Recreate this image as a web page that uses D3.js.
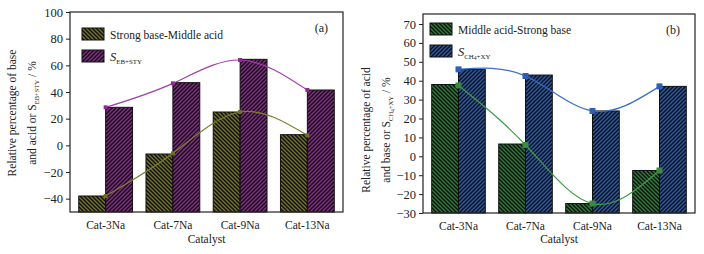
<!DOCTYPE html>
<html>
<head>
<meta charset="utf-8">
<script src="https://cdn.jsdelivr.net/npm/d3@7"></script>
<style>
  body { margin: 0; background: #fff; }
</style>
</head>
<body>
<div id="chart"></div>
<script>
// Categories shared by both panels
const catalysts = ["Cat-3Na", "Cat-7Na", "Cat-9Na", "Cat-13Na"];

// Panel (a) values
const strongBaseMiddleAcid = [-38, -6.5, 25, 8];
const selEbSty = [28.5, 47, 64.5, 41.5];
const lineStrongBaseMiddleAcid = [-38, -6, 25, 7.5];
const lineEbSty = [28.5, 46.5, 64, 41.5];
const ticksA = [-40, -20, 0, 20, 40, 60, 80, 100];

// Panel (b) values
const middleAcidStrongBase = [38, 6.5, -25, -7.5];
const selCh4Xy = [46, 43, 24, 37];
const lineMiddleAcidStrongBase = [37.5, 6, -25, -7.5];
const lineCh4Xy = [46, 42.5, 24, 37];
const ticksB = [-30, -20, -10, 0, 10, 20, 30, 40, 50, 60, 70];

const FONT = "Liberation Serif";

const svg = d3
  .select("#chart")
  .append("svg")
  .attr("width", 704)
  .attr("height", 254);

const defs = svg.append("defs");

// Hatch patterns: colored background with dense black diagonals
function hatch(id, color, dir) {
  const p = defs
    .append("pattern")
    .attr("id", id)
    .attr("patternUnits", "userSpaceOnUse")
    .attr("width", 4)
    .attr("height", 4);
  p.append("rect").attr("width", 4).attr("height", 4).attr("fill", color);
  const d =
    dir === "back"
      ? "M-1,-1 L5,5 M-1,3 L1,5 M3,-1 L5,1"
      : "M-1,5 L5,-1 M-1,1 L1,-1 M3,5 L5,3";
  p.append("path").attr("d", d).attr("stroke", "#111").attr("stroke-width", 1.5);
}
hatch("hOlive", "#74742a", "back");
hatch("hPurple", "#8c2a90", "fwd");
hatch("hGreen", "#2f7d3a", "back");
hatch("hBlue", "#2a5cb4", "fwd");

function drawPanel(cfg) {
  const g = svg.append("g");
  const x = d3
    .scaleBand()
    .domain(catalysts)
    .range([cfg.left, cfg.right])
    .paddingInner(0.2)
    .paddingOuter(0.13);
  const xs = d3.scaleBand().domain([0, 1]).range([0, x.bandwidth()]);
  const y = d3.scaleLinear().domain(cfg.domain).range([cfg.bottom, cfg.top]);
  const base = cfg.domain[0];

  // Bars rise from the bottom of the axis
  cfg.series.forEach((s, i) => {
    g.selectAll(null)
      .data(s.values)
      .enter()
      .append("rect")
      .attr("x", (d, j) => x(catalysts[j]) + xs(i))
      .attr("width", xs.bandwidth())
      .attr("y", (d) => y(d))
      .attr("height", (d) => y(base) - y(d))
      .attr("fill", `url(#${s.pattern})`)
      .attr("stroke", "#111")
      .attr("stroke-width", 1);
  });

  // Smooth lines with square markers at the group centres
  const line = d3
    .line()
    .x((d, j) => x(catalysts[j]) + x.bandwidth() / 2)
    .y((d) => y(d))
    .curve(d3.curveNatural);
  cfg.lines.forEach((l) => {
    g.append("path")
      .datum(l.values)
      .attr("d", line)
      .attr("fill", "none")
      .attr("stroke", l.lineColor)
      .attr("stroke-width", 1.2);
    g.selectAll(null)
      .data(l.values)
      .enter()
      .append("rect")
      .attr("x", (d, j) => x(catalysts[j]) + x.bandwidth() / 2 - cfg.marker / 2)
      .attr("y", (d) => y(d) - cfg.marker / 2)
      .attr("width", cfg.marker)
      .attr("height", cfg.marker)
      .attr("fill", l.markerColor);
  });

  // Frame
  g.append("rect")
    .attr("x", cfg.left)
    .attr("y", cfg.top)
    .attr("width", cfg.right - cfg.left)
    .attr("height", cfg.bottom - cfg.top)
    .attr("fill", "none")
    .attr("stroke", "#222")
    .attr("stroke-width", 1.2);

  // Y axis
  const yAxis = g
    .append("g")
    .attr("transform", `translate(${cfg.left},0)`)
    .call(d3.axisLeft(y).tickValues(cfg.ticks).tickSize(4).tickPadding(3));
  yAxis.select(".domain").remove();
  yAxis.selectAll("line").attr("stroke", "#222");
  yAxis
    .selectAll("text")
    .attr("font-family", FONT)
    .attr("font-size", 12.5)
    .attr("fill", "#222")
    .text((d) => (d < 0 ? "\u2212" + Math.abs(d) : d));

  // X tick labels
  const xAxis = g
    .append("g")
    .attr("transform", `translate(0,${cfg.bottom})`)
    .call(d3.axisBottom(x).tickSize(0).tickPadding(9));
  xAxis.select(".domain").remove();
  xAxis
    .selectAll("text")
    .attr("font-family", FONT)
    .attr("font-size", 11.5)
    .attr("fill", "#222");

  g.append("text")
    .attr("x", (cfg.left + cfg.right) / 2)
    .attr("y", 243)
    .attr("text-anchor", "middle")
    .attr("font-family", FONT)
    .attr("font-size", 11.5)
    .attr("fill", "#222")
    .text("Catalyst");

  // Y label, two rotated lines
  const lab = g
    .append("text")
    .attr("transform", `translate(${cfg.labelX},${cfg.labelY}) rotate(-90)`)
    .attr("text-anchor", "middle")
    .attr("font-family", FONT)
    .attr("font-size", 11.5)
    .attr("fill", "#222");
  lab.append("tspan").attr("x", 0).attr("y", 0).text(cfg.label1);
  lab.append("tspan").attr("x", 0).attr("y", 20).text(cfg.label2 + " S");
  cfg.subscript(lab, 12);
  lab.append("tspan").attr("dy", -3).attr("font-size", 11.5).text(" / %");

  // Legend
  cfg.legend.forEach((item, i) => {
    const ly = cfg.legendY + i * 22;
    g.append("rect")
      .attr("x", cfg.legendX)
      .attr("y", ly)
      .attr("width", 22)
      .attr("height", 12)
      .attr("fill", `url(#${item.pattern})`)
      .attr("stroke", "#111");
    const t = g
      .append("text")
      .attr("x", cfg.legendX + 28)
      .attr("y", ly + 10.5)
      .attr("font-family", FONT)
      .attr("font-size", 11.5)
      .attr("fill", "#222");
    if (item.sub) {
      t.append("tspan").attr("font-style", "italic").attr("font-size", 12.5).text("S");
      cfg.subscript(t, 12.5);
    } else {
      t.text(item.label);
    }
  });

  g.append("text")
    .attr("x", cfg.right - 15)
    .attr("y", cfg.top + 20)
    .attr("text-anchor", "end")
    .attr("font-family", FONT)
    .attr("font-size", 12)
    .attr("fill", "#222")
    .text(cfg.tag);
}

drawPanel({
  left: 70,
  right: 343,
  top: 12,
  bottom: 212,
  domain: [-50, 100],
  ticks: ticksA,
  marker: 4,
  series: [
    { values: strongBaseMiddleAcid, pattern: "hOlive" },
    { values: selEbSty, pattern: "hPurple" },
  ],
  lines: [
    { values: lineStrongBaseMiddleAcid, lineColor: "#7f7f30", markerColor: "#6e6e26" },
    { values: lineEbSty, lineColor: "#a23fab", markerColor: "#8e2a92" },
  ],
  labelX: 16,
  labelY: 113,
  label1: "Relative percentage of base",
  label2: "and acid or",
  subscript: (t, fs) => {
    t.append("tspan").attr("dy", 3).attr("font-size", fs * 0.55).text("EB+STY");
  },
  legend: [
    { label: "Strong base-Middle acid", pattern: "hOlive" },
    { sub: true, pattern: "hPurple" },
  ],
  legendX: 82,
  legendY: 28,
  tag: "(a)",
});

drawPanel({
  left: 423,
  right: 695,
  top: 14,
  bottom: 213,
  domain: [-30, 75.3],
  ticks: ticksB,
  marker: 6,
  series: [
    { values: middleAcidStrongBase, pattern: "hGreen" },
    { values: selCh4Xy, pattern: "hBlue" },
  ],
  lines: [
    { values: lineMiddleAcidStrongBase, lineColor: "#3f9c48", markerColor: "#3a8a44" },
    { values: lineCh4Xy, lineColor: "#3a6dcb", markerColor: "#2d5fb8" },
  ],
  labelX: 370,
  labelY: 130,
  label1: "Relative percentage of acid",
  label2: "and base or",
  subscript: (t, fs) => {
    t.append("tspan").attr("dy", 3).attr("font-size", fs * 0.55).text("CH");
    t.append("tspan").attr("dy", 1.5).attr("font-size", fs * 0.45).text("4");
    t.append("tspan").attr("dy", -1.5).attr("font-size", fs * 0.55).text("+XY");
  },
  legend: [
    { label: "Middle acid-Strong base", pattern: "hGreen" },
    { sub: true, pattern: "hBlue" },
  ],
  legendX: 430,
  legendY: 23,
  tag: "(b)",
});
</script>
</body>
</html>
